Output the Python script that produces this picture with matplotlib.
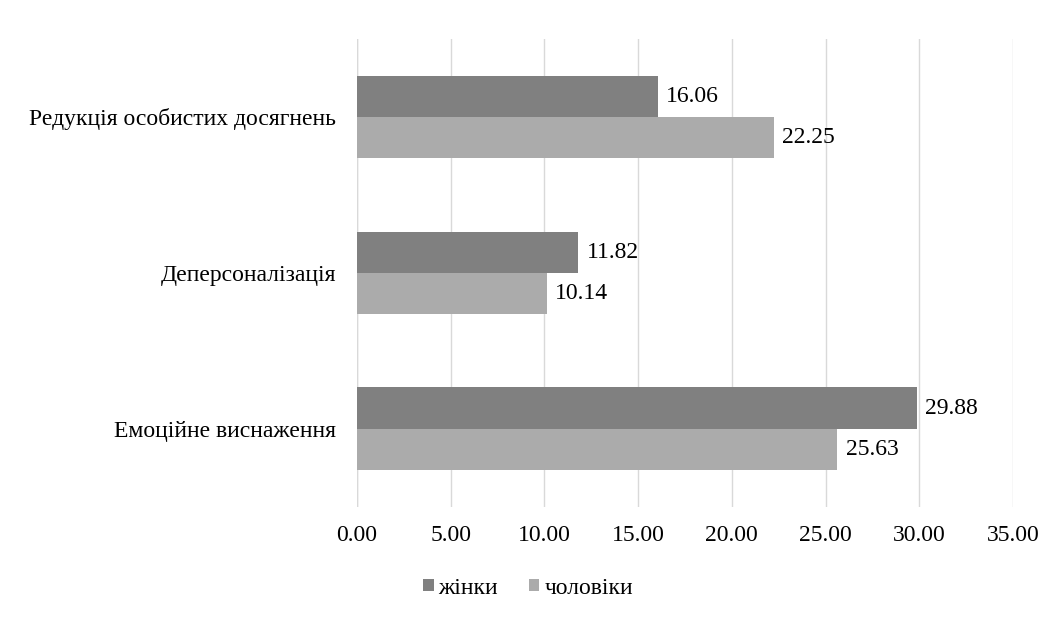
import matplotlib
matplotlib.use("Agg")
import matplotlib.pyplot as plt
import numpy as np

categories = ["Емоційне виснаження", "Деперсоналізація", "Редукція особистих досягнень"]
women = [29.88, 11.82, 16.06]
men = [25.63, 10.14, 22.25]
series_names = ["жінки", "чоловіки"]
xticks = [0, 5, 10, 15, 20, 25, 30, 35]

plt.rcParams['font.family'] = ['Liberation Serif', 'DejaVu Serif']
fs = 17

fig = plt.figure(figsize=(10.62, 6.18), dpi=100)
ax = fig.add_axes([0.336, 0.180, 0.618, 0.757])

y = np.arange(len(categories))
h = 0.265
c_w = "#808080"
c_m = "#ababab"
b1 = ax.barh(y + h/2, women, height=h, color=c_w, label=series_names[0], zorder=3)
b2 = ax.barh(y - h/2, men, height=h, color=c_m, label=series_names[1], zorder=3)

for bars in (b1, b2):
    for rect in bars:
        w = rect.get_width()
        ax.annotate(f"{w:.2f}", xy=(w, rect.get_y() + rect.get_height()/2),
                    xytext=(6, 0), textcoords="offset points",
                    va="center", ha="left", fontsize=fs, color="#000000")

ax.set_xlim(0, 35)
ax.set_ylim(-0.5, 2.5)
ax.set_xticks(xticks)
ax.set_xticklabels([f"{v:.2f}" for v in xticks], fontsize=fs)
ax.set_yticks(y)
ax.set_yticklabels(categories, fontsize=fs)
ax.tick_params(axis="x", length=0, pad=13)
ax.tick_params(axis="y", length=0, pad=15)
ax.grid(axis="x", color="#d9d9d9", linewidth=1, zorder=0)
for s in ax.spines.values():
    s.set_visible(False)
ax.axvline(0, color="#d9d9d9", linewidth=1, zorder=1)

fig.legend(handles=[b1, b2], labels=series_names, loc="center",
           bbox_to_anchor=(528/1062, 1 - 588/618), ncol=2, frameon=False,
           fontsize=fs, handlelength=0.45, handleheight=0.45, handletextpad=0.2,
           columnspacing=1.3)

fig.savefig("out.png", dpi=100)
